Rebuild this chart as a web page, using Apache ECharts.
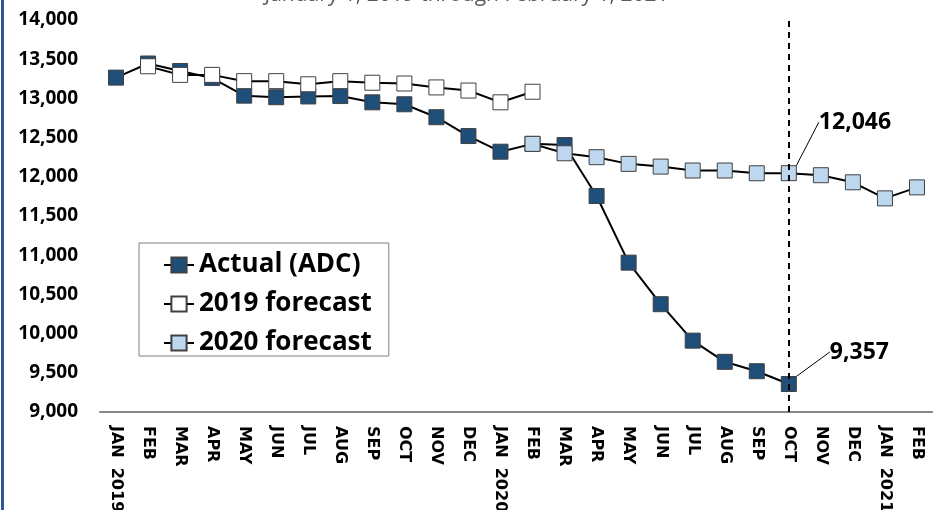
<!DOCTYPE html>
<html>
<head>
<meta charset="utf-8">
<script src="https://cdn.jsdelivr.net/npm/echarts@6/dist/echarts.min.js"></script>
<style>
html,body{margin:0;padding:0;background:#fff;}
#chart{width:933px;height:510px;position:relative;}
#frame{position:absolute;left:1px;top:0;width:3px;height:510px;background:#2F5597;}
</style>
</head>
<body>
<div id="chart"></div>
<div id="frame"></div>
<script>
const titleText = 'January 1, 2019 through February 1, 2021';
const months = ['JAN','FEB','MAR','APR','MAY','JUN','JUL','AUG','SEP','OCT','NOV','DEC',
  'JAN','FEB','MAR','APR','MAY','JUN','JUL','AUG','SEP','OCT','NOV','DEC','JAN','FEB'];
const years = {0: '2019', 12: '2020', 24: '2021'};
const actual = [13265,13445,13350,13260,13035,13015,13025,13030,12950,12925,12760,12520,
  12320,12420,12405,11755,10905,10375,9910,9640,9520,9357];
const forecast2019 = [null,13410,13300,13300,13220,13220,13180,13220,13200,13190,13140,13100,12950,13085];
const forecast2020 = [null,null,null,null,null,null,null,null,null,null,null,null,null,
  12420,12300,12250,12165,12130,12080,12080,12045,12046,12020,11930,11725,11865];
const seriesNames = ['Actual (ADC)','2019 forecast','2020 forecast'];
const markerIndex = 21; // OCT 2020
const yTicks = {min: 9000, max: 14000, interval: 500};

const chart = echarts.init(document.getElementById('chart'));
const fmt = v => v.toLocaleString('en-US');
const boldFont = 'Open Sans';
const axisFont = 'DejaVu Sans';

function annot(v) {
  return {
    value: v,
    label: {show: true, position: 'right', distance: 0, formatter: p => fmt(p.value),
      fontFamily: boldFont, fontWeight: 'bold', fontSize: 23, color: '#000'},
    labelLine: {show: true, lineStyle: {color: '#000', width: 1}}
  };
}
function mk(name, data, fill) {
  return {
    name: name, type: 'line', data: data,
    symbol: 'rect', symbolSize: 15, connectNulls: false,
    itemStyle: {color: fill, borderColor: '#404040', borderWidth: 1},
    lineStyle: {color: '#000', width: 2},
    label: {show: false},
    animation: false
  };
}
const s0 = mk(seriesNames[0], actual.map((v,i)=> i===markerIndex ? annot(v) : v), '#1F4E79');
s0.labelLayout = p => p.dataIndex === markerIndex ? {dx: 33, dy: -32} : {};
s0.markLine = {
  silent: true, symbol: 'none', label: {show: false},
  lineStyle: {color: '#000', type: [6, 5], width: 2},
  data: [{xAxis: markerIndex}]
};
const s1 = mk(seriesNames[1], forecast2019, '#FFFFFF');
const s2 = mk(seriesNames[2], forecast2020.map((v,i)=> i===markerIndex ? annot(v) : v), '#BDD7EE');
s2.labelLayout = p => p.dataIndex === markerIndex ? {dx: 22, dy: -51} : {};

chart.setOption({
  animation: false,
  backgroundColor: '#fff',
  title: {text: titleText, left: 'center', top: -20,
    textStyle: {fontFamily: 'Open Sans', fontWeight: 'normal', fontSize: 21, color: '#595959'}},
  grid: {left: 100, right: 0, top: 20, bottom: 98, outerBoundsMode: 'none', containLabel: false},
  legend: {
    orient: 'vertical', left: 139, top: 243,
    data: seriesNames,
    backgroundColor: '#fff', borderColor: '#808080', borderWidth: 1,
    padding: [9, 17, 0, 24], itemGap: 13, itemWidth: 30, itemHeight: 19,
    textStyle: {fontFamily: boldFont, fontWeight: 'bold', fontSize: 26, color: '#000'}
  },
  xAxis: {
    type: 'category', data: months, boundaryGap: true,
    axisLine: {lineStyle: {color: '#868686', width: 2}},
    axisTick: {show: false},
    axisLabel: {interval: 0, rotate: -90, margin: 14, hideOverlap: false,
      formatter: (v, i) => years[i] ? '{m|' + v + '}{y|' + years[i] + '}' : '{m|' + v + '}',
      rich: {
        m: {fontFamily: axisFont, fontWeight: 'bold', fontSize: 16, color: '#000'},
        y: {fontFamily: axisFont, fontWeight: 'bold', fontSize: 16, color: '#000', padding: [0, 0, 0, 10]}
      },
      fontFamily: axisFont, fontWeight: 'bold', fontSize: 16, color: '#000'}
  },
  yAxis: {
    type: 'value', min: yTicks.min, max: yTicks.max, interval: yTicks.interval,
    axisLine: {show: false}, axisTick: {show: false}, splitLine: {show: false},
    axisLabel: {formatter: v => fmt(v), margin: 22, fontFamily: boldFont, fontWeight: 'bold',
      fontSize: 19, color: '#000'}
  },
  series: [s0, s1, s2]
});
</script>
</body>
</html>
